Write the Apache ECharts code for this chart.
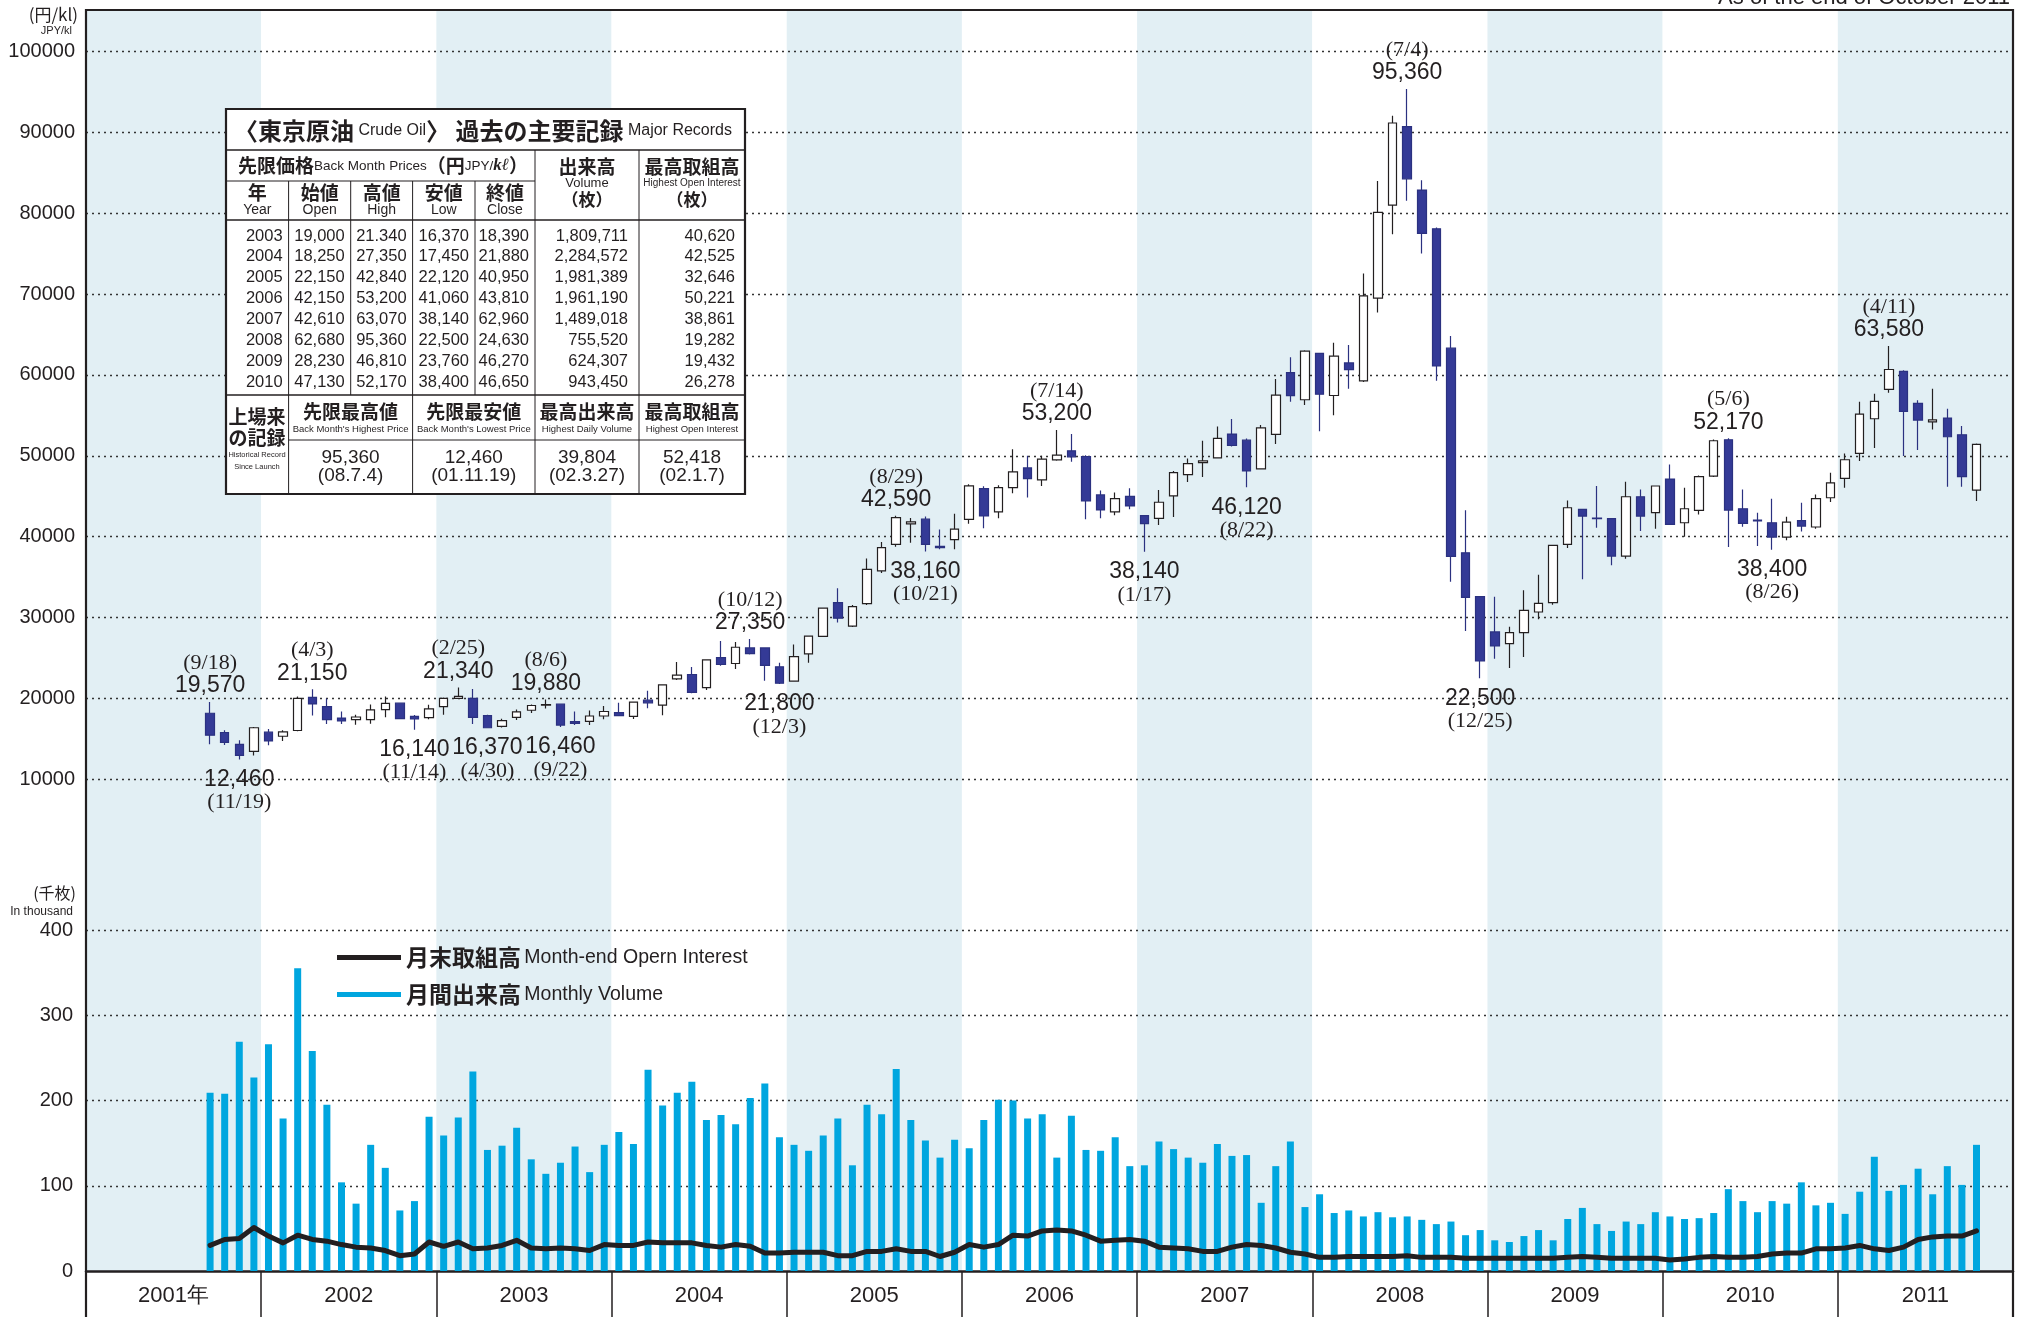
<!DOCTYPE html>
<html>
<head>
<meta charset="utf-8">
<title>東京原油 先限価格・出来高</title>
<script src="https://cdn.jsdelivr.net/npm/echarts@6/dist/echarts.min.js"></script>
<style>
  html, body { margin: 0; padding: 0; background: #fff; }
  #chart { width: 2017px; height: 1317px; }
</style>
</head>
<body>
<div id="chart"></div>
<script>
const SANS = '"Liberation Sans", Arial, sans-serif';
const SERIF = '"Liberation Serif", "Times New Roman", serif';
const JP = '"Noto Sans CJK JP", sans-serif';
const INK = '#231f20';
const BLUE = '#343a96';
const CYAN = '#00a6df';

// categories
const years = [2001, 2002, 2003, 2004, 2005, 2006, 2007, 2008, 2009, 2010, 2011];
const yearLabels = ['2001年', '2002', '2003', '2004', '2005', '2006', '2007', '2008', '2009', '2010', '2011'];
const allMonths = [];
years.forEach(y => { for (let m = 1; m <= 12; m++) allMonths.push(y + '/' + m); });
const months = allMonths.slice(8, 130); // 2001/9 .. 2011/10

// back month prices, yen/kl
const openP = [
  18170, 15790, 14330, 13460,
  15830, 15330, 16040, 20130, 19000, 17580, 17380, 17380, 18630, 19420, 17790, 17630,
  19000, 20000, 20000, 17880, 16540, 17670, 18540, 19170, 19290, 17130, 17170, 17830,
  18250, 17790, 19790, 19170, 22420, 22960, 21340, 25060, 24320, 26250, 26250, 23910,
  22150, 25510, 27680, 31860, 28950, 31730, 35780, 39060, 41600, 42170, 38810, 39650,
  42150, 45950, 43060, 46070, 48510, 47030, 49500, 50620, 49920, 45170, 43060, 45000,
  42610, 42270, 45040, 47690, 49170, 49750, 52690, 51940, 48390, 52650, 60290, 56940,
  62680, 57460, 61490, 59280, 69500, 81000, 90720, 82870, 78070, 63320, 38010, 32600,
  28230, 26780, 28130, 30690, 31840, 39050, 43380, 42310, 42230, 37610, 44940, 42970,
  47130, 41730, 43260, 47500, 51990, 43460, 42050, 41730, 39960, 41980, 41200, 44820,
  47210, 50300, 54590, 58210, 60440, 56480, 54210, 54670, 52610, 45770
];
const closeP = [
  15460, 14580, 12960, 16380,
  14750, 15880, 20000, 19330, 17380, 17210, 17710, 18580, 19380, 17500, 17460, 18710,
  20000, 20250, 17670, 16380, 17250, 18330, 19130, 19250, 16710, 16920, 17830, 18390,
  17880, 19540, 19460, 21670, 22880, 20750, 24770, 24200, 26330, 25550, 24080, 21880,
  25180, 27720, 31160, 29930, 31360, 35950, 38650, 42370, 41840, 39060, 38650, 40950,
  46280, 42560, 46070, 48020, 47190, 49590, 50080, 49880, 44420, 43310, 44710, 43810,
  41610, 44260, 47930, 49050, 49380, 52150, 51280, 48140, 53470, 57520, 57440, 62960,
  57620, 62320, 60660, 69780, 80110, 91160, 84260, 77510, 61110, 37570, 32490, 24630,
  26490, 28130, 30900, 31760, 38930, 43580, 42550, 42230, 37610, 44940, 42550, 46270,
  41520, 43460, 47420, 51870, 43300, 41650, 41950, 39960, 41810, 41320, 44700, 46650,
  49520, 55160, 56730, 60680, 55490, 54420, 54460, 52360, 47420, 51410
];
const lowP = [
  14330, 14250, 12460, 12960,
  14210, 14750, 15960, 17880, 16830, 16830, 16750, 16880, 17670, 17460, 16140, 17420,
  18000, 19920, 16830, 16370, 16400, 17330, 18210, 18750, 16460, 16710, 16710, 17420,
  17830, 17450, 18790, 17920, 22290, 20630, 21050, 24050, 23630, 25430, 22200, 21800,
  22120, 24410, 27600, 29400, 28830, 31570, 35500, 38770, 39260, 38160, 38450, 38450,
  41600, 41060, 42270, 45370, 44840, 46280, 49400, 49260, 42150, 42270, 42650, 43390,
  38140, 41450, 42440, 46780, 47400, 49670, 51160, 46120, 48310, 51450, 56690, 56280,
  53040, 55030, 58290, 59120, 67740, 77400, 81550, 75030, 59280, 34420, 28340, 22500,
  24920, 23760, 25130, 29780, 31600, 38600, 34730, 41110, 36460, 37280, 40700, 40990,
  41500, 40000, 42760, 47400, 38720, 41240, 38850, 38400, 39550, 40660, 40990, 44290,
  46060, 49350, 50960, 57800, 49970, 50710, 53270, 46180, 46180, 44410
];
const highP = [
  19570, 16080, 14830, 16460,
  16210, 16080, 20250, 21150, 20000, 18380, 18000, 19250, 20250, 19500, 17960, 19210,
  20130, 21340, 21170, 18000, 17500, 18630, 19250, 19880, 19330, 18380, 18500, 19080,
  19460, 19630, 20960, 21750, 24500, 23880, 24800, 27100, 26980, 27350, 26300, 24410,
  26660, 27760, 31200, 33620, 31570, 37300, 39350, 42590, 42300, 42500, 40900, 42840,
  46500, 46250, 46360, 50830, 50000, 50000, 53200, 52690, 50080, 45700, 45460, 45990,
  42700, 45790, 48140, 49670, 51860, 53640, 54550, 52150, 53800, 59500, 62190, 63070,
  62700, 63980, 63700, 72540, 83980, 92050, 95360, 84090, 78230, 64810, 43260, 32600,
  32590, 28880, 33370, 35300, 39010, 44490, 43400, 46260, 42300, 46810, 45850, 46300,
  48940, 46060, 47580, 52030, 52170, 45850, 42970, 44700, 42470, 44200, 45230, 47910,
  50300, 56690, 57680, 63580, 60600, 56890, 58290, 55820, 53680, 51540
];

// monthly volume and month-end open interest, thousand contracts
const volume = [
  209, 208, 269, 227,
  266, 179, 355, 258, 195, 104, 79, 148, 121, 71, 82, 181,
  159, 180, 234, 142, 147, 168, 131, 114, 127, 146, 116, 148,
  163, 149, 236, 194, 209, 222, 177, 183, 172, 203, 220, 157,
  148, 141, 159, 179, 124, 195, 184, 237, 177, 153, 133, 154,
  144, 177, 201, 200, 179, 184, 133, 182, 142, 141, 157, 123,
  124, 152, 143, 133, 127, 149, 135, 136, 80, 123, 152, 75,
  90, 68, 71, 64, 69, 63, 64, 60, 55, 58, 42, 48,
  36, 34, 41, 48, 36, 61, 74, 55, 47, 58, 55, 69,
  64, 61, 62, 68, 96, 82, 69, 82, 79, 104, 77, 80,
  67, 93, 134, 94, 101, 120, 90, 123, 101, 148
];
const openInterest = [
  30, 37, 38, 51,
  41, 33, 42, 37, 35, 31, 28, 27, 24, 18, 20, 34,
  29, 34, 26, 27, 30, 36, 27, 26, 27, 26, 24, 31,
  30, 30, 34, 33, 33, 33, 30, 28, 31, 29, 21, 21,
  22, 22, 22, 18, 18, 23, 23, 26, 23, 23, 17, 22,
  31, 28, 31, 42, 41, 47, 48, 47, 42, 35, 36, 37,
  35, 28, 27, 26, 23, 23, 28, 31, 30, 27, 22, 20,
  16, 16, 17, 17, 17, 17, 18, 16, 16, 16, 15, 15,
  15, 15, 15, 15, 15, 16, 17, 16, 15, 15, 15, 15,
  13, 14, 16, 17, 16, 16, 17, 20, 21, 21, 26, 26,
  27, 30, 26, 24, 28, 37, 40, 41, 41, 47
];

// marked highs / lows: month, price, date, side
const notes = [
  ['2001/9', 19570, '9/18', 'hi'], ['2001/11', 12460, '11/19', 'lo'],
  ['2002/4', 21150, '4/3', 'hi'], ['2002/11', 16140, '11/14', 'lo'],
  ['2003/2', 21340, '2/25', 'hi'], ['2003/4', 16370, '4/30', 'lo'],
  ['2003/8', 19880, '8/6', 'hi'], ['2003/9', 16460, '9/22', 'lo'],
  ['2004/10', 27350, '10/12', 'hi'], ['2004/12', 21800, '12/3', 'lo'],
  ['2005/8', 42590, '8/29', 'hi'], ['2005/10', 38160, '10/21', 'lo'],
  ['2006/7', 53200, '7/14', 'hi'], ['2007/1', 38140, '1/17', 'lo'],
  ['2007/8', 46120, '8/22', 'lo'], ['2008/7', 95360, '7/4', 'hi'],
  ['2008/12', 22500, '12/25', 'lo'], ['2010/5', 52170, '5/6', 'hi'],
  ['2010/8', 38400, '8/26', 'lo'], ['2011/4', 63580, '4/11', 'hi']
];

// records table
const tableYears = ['2003', '2004', '2005', '2006', '2007', '2008', '2009', '2010'];
const tableOpen = ['19,000', '18,250', '22,150', '42,150', '42,610', '62,680', '28,230', '47,130'];
const tableHigh = ['21.340', '27,350', '42,840', '53,200', '63,070', '95,360', '46,810', '52,170'];
const tableLow = ['16,370', '17,450', '22,120', '41,060', '38,140', '22,500', '23,760', '38,400'];
const tableClose = ['18,390', '21,880', '40,950', '43,810', '62,960', '24,630', '46,270', '46,650'];
const tableVolume = ['1,809,711', '2,284,572', '1,981,389', '1,961,190', '1,489,018', '755,520', '624,307', '943,450'];
const tableOI = ['40,620', '42,525', '32,646', '50,221', '38,861', '19,282', '19,432', '26,278'];
const recordHeads = [['先限最高値', "Back Month's Highest Price"], ['先限最安値', "Back Month's Lowest Price"],
  ['最高出来高', 'Highest Daily Volume'], ['最高取組高', 'Highest Open Interest']];
const recordValues = [['95,360', '(08.7.4)'], ['12,460', '(01.11.19)'], ['39,804', '(02.3.27)'], ['52,418', '(02.1.7)']];

function tableGraphics() {
  const els = [];
  const L = 226, R = 745, T = 109, B = 494;
  const cx = [226, 288.6, 350.7, 412.6, 475, 535, 639, 745];
  const bx = [226, 288.6, 412.6, 535, 639, 745];
  const line = (x1, y1, x2, y2, w) => els.push({ type: 'line', z: 100, shape: { x1, y1, x2, y2 }, style: { stroke: INK, lineWidth: w } });
  const text = (x, y, t, o) => els.push({ type: 'text', z: 101, style: Object.assign({ x, y, text: t, align: 'center', verticalAlign: 'middle', fill: INK, fontFamily: SANS, fontSize: 16 }, o || {}) });

  els.push({ type: 'rect', z: 99, shape: { x: L, y: T, width: R - L, height: B - T }, style: { fill: '#fff', stroke: INK, lineWidth: 2.2 } });
  line(L, 150, R, 150, 1.5);
  line(L, 181, 535, 181, 1);
  line(L, 220, R, 220, 1.5);
  line(L, 395, R, 395, 1.5);
  line(288.6, 440, R, 440, 1);
  [288.6, 350.7, 412.6, 475].forEach(x => line(x, 181, x, 395, 1));
  [535, 639].forEach(x => line(x, 150, x, 395, 1));
  [288.6, 412.6, 535, 639].forEach(x => line(x, 395, x, B, 1));

  text(483, 131, '{a|〈東京原油}{b| Crude Oil}{a|〉 過去の主要記録}{b| Major Records}', {
    rich: { a: { fontFamily: JP, fontSize: 24, fontWeight: 'bold', fill: INK }, b: { fontFamily: SANS, fontSize: 16, fill: INK } }
  });
  text(383, 166, '{a|先限価格}{b|Back Month Prices}{a|（円}{b|JPY/}{c|kℓ}{a|）}', {
    rich: { a: { fontFamily: JP, fontSize: 19, fontWeight: 'bold', fill: INK }, b: { fontFamily: SANS, fontSize: 13.5, fill: INK },
      c: { fontFamily: SERIF, fontSize: 17, fontStyle: 'italic', fontWeight: 'bold', fill: INK } }
  });
  [[587, '出来高', 'Volume'], [692, '最高取組高', 'Highest Open Interest']].forEach(h => {
    text(h[0], 167, h[1], { fontFamily: JP, fontSize: 19, fontWeight: 'bold' });
    text(h[0], 183, h[2], { fontSize: h[2].length > 10 ? 10 : 13 });
    text(h[0], 200, '（枚）', { fontFamily: JP, fontSize: 17, fontWeight: 'bold' });
  });
  const heads = [['年', 'Year'], ['始値', 'Open'], ['高値', 'High'], ['安値', 'Low'], ['終値', 'Close']];
  heads.forEach((h, i) => {
    const x = (cx[i] + cx[i + 1]) / 2;
    text(x, 193, h[0], { fontFamily: JP, fontSize: 19, fontWeight: 'bold' });
    text(x, 210, h[1], { fontSize: 14 });
  });
  const cols = [tableYears, tableOpen, tableHigh, tableLow, tableClose];
  tableYears.forEach((y, r) => {
    const yy = 236 + r * 20.9;
    cols.forEach((c, i) => text(cx[i + 1] - 6, yy, c[r], { align: 'right', fontSize: 16.5 }));
    text(628, yy, tableVolume[r], { align: 'right', fontSize: 16.5 });
    text(735, yy, tableOI[r], { align: 'right', fontSize: 16.5 });
  });
  text(257, 417, '上場来', { fontFamily: JP, fontSize: 19, fontWeight: 'bold' });
  text(257, 438, 'の記録', { fontFamily: JP, fontSize: 19, fontWeight: 'bold' });
  text(257, 455, 'Historical Record', { fontSize: 7.5 });
  text(257, 467, 'Since Launch', { fontSize: 7.5 });
  recordHeads.forEach((h, i) => {
    const x = (bx[i + 1] + bx[i + 2]) / 2;
    text(x, 412, h[0], { fontFamily: JP, fontSize: 19, fontWeight: 'bold' });
    text(x, 429, h[1], { fontSize: 9.5 });
    text(x, 458, recordValues[i][0], { fontSize: 19 });
    text(x, 476, recordValues[i][1], { fontSize: 19 });
  });
  return els;
}

const chart = echarts.init(document.getElementById('chart'));

const option = {
  animation: false,
  backgroundColor: '#fff',
  textStyle: { fontFamily: SANS, color: INK },
  grid: [
    { left: 86, right: 4, top: 10, bottom: 46 },
    { left: 86, right: 4, top: 51.5, height: 808.7 },
    { left: 86, right: 4, top: 930, height: 341 }
  ],
  xAxis: [
    {
      gridIndex: 0, type: 'category', data: yearLabels, boundaryGap: true, z: 0,
      axisLine: { lineStyle: { color: INK, width: 2.5 } },
      axisTick: { show: true, inside: false, length: 50, interval: 0, lineStyle: { color: INK, width: 1.5 } },
      axisLabel: { fontSize: 22, margin: 14, color: INK, interval: 0 },
      splitLine: { show: false },
      splitArea: { show: true, interval: 0, areaStyle: { color: ['#e2eff4', '#ffffff'] } }
    },
    { gridIndex: 1, type: 'category', data: allMonths, boundaryGap: true, show: false },
    { gridIndex: 2, type: 'category', data: allMonths, boundaryGap: true, show: false }
  ],
  yAxis: [
    { gridIndex: 0, type: 'value', show: false, min: 0, max: 1 },
    {
      gridIndex: 1, type: 'value', min: 0, max: 100000, interval: 10000, z: 1,
      axisLine: { show: false }, axisTick: { show: false },
      axisLabel: { fontSize: 20, color: INK, margin: 11, formatter: v => (v === 0 ? '' : String(v)) },
      splitLine: { showMinLine: false, lineStyle: { color: '#333', width: 1.4, type: [2, 4] } }
    },
    {
      gridIndex: 2, type: 'value', min: 0, max: 400, interval: 100, z: 1,
      axisLine: { show: false }, axisTick: { show: false },
      axisLabel: { fontSize: 20, color: INK, margin: 13 },
      splitLine: { showMinLine: false, lineStyle: { color: '#333', width: 1.4, type: [2, 4] } }
    }
  ],
  dataset: {
    sourceHeader: false,
    dimensions: ['month', 'open', 'close', 'low', 'high'],
    source: months.map((m, i) => [m, openP[i], closeP[i], lowP[i], highP[i]])
  },
  legend: {
    orient: 'vertical', left: 332, top: 941, itemWidth: 64, itemHeight: 5, itemGap: 14,
    selectedMode: false,
    data: [{ name: '月末取組高', icon: 'rect' }, { name: '月間出来高', icon: 'rect' }],
    formatter: n => (n === '月末取組高' ? '{j|月末取組高} {e|Month-end Opern Interest}' : '{j|月間出来高} {e|Monthly Volume}'),
    textStyle: {
      rich: {
        j: { fontFamily: JP, fontSize: 23, fontWeight: 'bold', color: INK },
        e: { fontFamily: SANS, fontSize: 19.5, color: INK }
      }
    }
  },
  series: [
    {
      name: '先限価格', type: 'candlestick', xAxisIndex: 1, yAxisIndex: 1, datasetIndex: 0,
      encode: { x: 'month', y: ['open', 'close', 'low', 'high'] },
      barWidth: 9,
      itemStyle: { color: '#ffffff', color0: BLUE, borderColor: INK, borderColor0: '#2b3180', borderWidth: 1.2 },
      markPoint: {
        symbol: 'circle', symbolSize: 1, itemStyle: { color: 'rgba(0,0,0,0)' },
        data: notes.map(n => {
          const hi = n[3] === 'hi';
          const v = n[1].toLocaleString('en-US');
          return {
            coord: [n[0], n[1]],
            label: {
              show: true, position: hi ? 'top' : 'bottom', distance: hi ? 4 : 8,
              formatter: hi ? '{d|(' + n[2] + ')}\n{v|' + v + '}' : '{v|' + v + '}\n{d|(' + n[2] + ')}',
              rich: {
                d: { fontFamily: SERIF, fontSize: 22, lineHeight: 23, color: INK },
                v: { fontFamily: SANS, fontSize: 23, lineHeight: 23, color: INK }
              }
            }
          };
        })
      }
    },
    {
      name: '月間出来高', type: 'bar', xAxisIndex: 2, yAxisIndex: 2, barWidth: 7,
      color: CYAN, itemStyle: { color: CYAN },
      data: months.map((m, i) => [m, volume[i]])
    },
    {
      name: '月末取組高', type: 'line', xAxisIndex: 2, yAxisIndex: 2, symbol: 'none', z: 3,
      color: INK, itemStyle: { color: INK },
      lineStyle: { color: INK, width: 5, join: 'round', cap: 'round' },
      data: months.map((m, i) => [m, openInterest[i]])
    }
  ],
  graphic: [
    { type: 'rect', z: 50, silent: true, shape: { x: 86, y: 10, width: 1927, height: 1330 }, style: { fill: 'none', stroke: INK, lineWidth: 2.2 } },
    { type: 'text', z: 60, style: { x: 78, y: 15, text: '(円/kl)', align: 'right', verticalAlign: 'middle', fontFamily: JP, fontSize: 17, fill: INK } },
    { type: 'text', z: 60, style: { x: 72, y: 31, text: 'JPY/kl', align: 'right', verticalAlign: 'middle', fontFamily: SANS, fontSize: 11, fill: INK } },
    { type: 'text', z: 60, style: { x: 76, y: 893, text: '(千枚)', align: 'right', verticalAlign: 'middle', fontFamily: JP, fontSize: 16, fill: INK } },
    { type: 'text', z: 60, style: { x: 73, y: 912, text: 'In thousand', align: 'right', verticalAlign: 'middle', fontFamily: SANS, fontSize: 12, fill: INK } },
    { type: 'text', z: 60, style: { x: 2010, y: 9, text: 'As of the end of October 2011', align: 'right', verticalAlign: 'bottom', fontFamily: SANS, fontSize: 22, fill: INK } }
  ].concat(tableGraphics())
};

chart.setOption(option);
</script>
</body>
</html>
